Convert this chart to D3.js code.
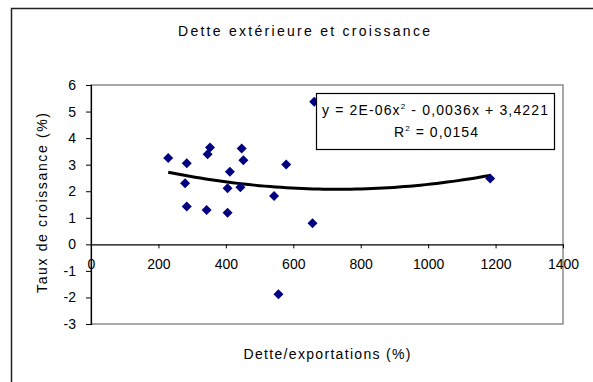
<!DOCTYPE html>
<html><head><meta charset="utf-8">
<script src="https://cdn.jsdelivr.net/npm/d3@7"></script>
<style>
html,body{margin:0;padding:0;background:#fff;}
svg{display:block;font-family:"Liberation Sans",Arial,sans-serif;}
</style></head>
<body>
<svg id="chart" width="593" height="382"></svg>
<script>
// ---- data ----
const title = "Dette extérieure et croissance";
const xLabel = "Dette/exportations (%)";
const yLabel = "Taux de croissance (%)";
const debtRatio = [229, 284, 279, 284, 343, 346, 353, 405, 405, 412, 447, 452, 443, 543, 579, 556, 662, 657, 1184];
const growthRate = [3.25, 3.05, 2.3, 1.42, 1.29, 3.39, 3.65, 1.19, 2.11, 2.73, 3.61, 3.17, 2.15, 1.82, 3.01, -1.88, 5.37, 0.79, 2.48];
const xTicks = [0, 200, 400, 600, 800, 1000, 1200, 1400];
const yTicks = [-3, -2, -1, 0, 1, 2, 3, 4, 5, 6];
const eqLine1 = ["y = 2E-06x", "2", " - 0,0036x + 3,4221"];
const eqLine2 = ["R", "2", " = 0,0154"];

const svg = d3.select("#chart");
const x = d3.scaleLinear().domain([0, 1400]).range([91, 563]);
const y = d3.scaleLinear().domain([-3, 6]).range([324, 85]);

// outer frame
svg.append("rect").attr("x", 11.5).attr("y", 8.5).attr("width", 700).attr("height", 500)
  .attr("fill", "none").attr("stroke", "#222").attr("stroke-width", 1.5);

// plot area border (gray)
svg.append("rect").attr("x", x(0)).attr("y", y(6)).attr("width", x(1400) - x(0)).attr("height", y(-3) - y(6))
  .attr("fill", "none").attr("stroke", "#8c8c8c").attr("stroke-width", 1.5);

// y axis
const yAxis = svg.append("g").attr("transform", `translate(${x(0)},0)`)
  .call(d3.axisLeft(y).tickValues(yTicks).tickSize(5).tickPadding(10).tickFormat(d => String(d)));
yAxis.select(".domain").attr("stroke", "#000").attr("stroke-width", 1.2);
yAxis.selectAll(".tick line").attr("stroke", "#000");
yAxis.selectAll("text").attr("font-size", 14).attr("fill", "#000").attr("font-family", "Liberation Sans, Arial");

// x axis at y=0
const xAxis = svg.append("g").attr("transform", `translate(0,${y(0)})`)
  .call(d3.axisBottom(x).tickValues(xTicks).tickSize(4).tickSizeOuter(0).tickPadding(11).tickFormat(d => String(d)));
xAxis.select(".domain").attr("stroke", "#000").attr("stroke-width", 1.2);
xAxis.selectAll(".tick line").attr("stroke", "#000");
xAxis.selectAll("text").attr("font-size", 14).attr("fill", "#000").attr("font-family", "Liberation Sans, Arial");

// quadratic least squares trend
function fitQuadratic(xs, ys) {
  let S = [[0,0,0],[0,0,0],[0,0,0]], T = [0,0,0];
  xs.forEach((xv, i) => {
    const p = [1, xv, xv*xv];
    for (let r = 0; r < 3; r++) { T[r] += p[r]*ys[i]; for (let c = 0; c < 3; c++) S[r][c] += p[r]*p[c]; }
  });
  const A = S.map((row, i) => row.concat([T[i]]));
  for (let i = 0; i < 3; i++) {
    let m = i; for (let k = i+1; k < 3; k++) if (Math.abs(A[k][i]) > Math.abs(A[m][i])) m = k;
    [A[i], A[m]] = [A[m], A[i]];
    for (let k = i+1; k < 3; k++) { const f = A[k][i]/A[i][i]; for (let j = i; j < 4; j++) A[k][j] -= f*A[i][j]; }
  }
  const c = [0,0,0];
  for (let i = 2; i >= 0; i--) { let s = A[i][3]; for (let j = i+1; j < 3; j++) s -= A[i][j]*c[j]; c[i] = s/A[i][i]; }
  return c;
}
const coef = fitQuadratic(debtRatio, growthRate);
const [xmin, xmax] = d3.extent(debtRatio);
const trendPts = d3.range(xmin, xmax + 0.001, (xmax - xmin) / 60).map(v => [v, coef[0] + coef[1]*v + coef[2]*v*v]);
svg.append("path").datum(trendPts)
  .attr("d", d3.line().x(d => x(d[0])).y(d => y(d[1])))
  .attr("fill", "none").attr("stroke", "#000").attr("stroke-width", 3);

// points
svg.append("g").selectAll("path").data(debtRatio).join("path")
  .attr("transform", (d, i) => `translate(${x(d)},${y(growthRate[i])})`)
  .attr("d", "M0,-5L5,0L0,5L-5,0Z")
  .attr("fill", "#000080");

// equation box
svg.append("rect").attr("x", 316.5).attr("y", 93.5).attr("width", 238).attr("height", 56)
  .attr("fill", "#fff").attr("stroke", "#000").attr("stroke-width", 1.2);
function eqText(parts, cx, yb, len) {
  const t = svg.append("text").attr("x", cx).attr("y", yb).attr("text-anchor", "middle")
    .attr("font-size", 14).attr("fill", "#000").attr("textLength", len).attr("lengthAdjust", "spacing");
  t.append("tspan").text(parts[0]);
  t.append("tspan").attr("dy", -6).attr("font-size", 8).text(parts[1]);
  t.append("tspan").attr("dy", 6).text(parts[2]);
}
eqText(eqLine1, 435, 115, 226);
eqText(eqLine2, 436, 137, 84);

// title and axis labels
svg.append("text").attr("x", 304).attr("y", 36).attr("text-anchor", "middle")
  .attr("font-size", 14).attr("textLength", 252).attr("lengthAdjust", "spacing").text(title);
svg.append("text").attr("x", 327).attr("y", 359).attr("text-anchor", "middle")
  .attr("font-size", 14).attr("textLength", 167).attr("lengthAdjust", "spacing").text(xLabel);
svg.append("text").attr("transform", "translate(47,203) rotate(-90)").attr("text-anchor", "middle")
  .attr("font-size", 14).attr("textLength", 180).attr("lengthAdjust", "spacing").text(yLabel);
</script>
</body></html>
